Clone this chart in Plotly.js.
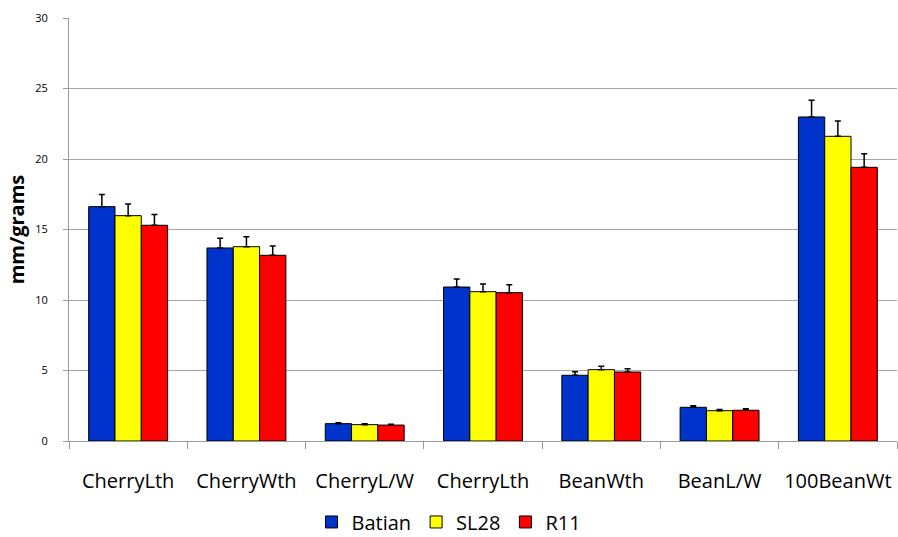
<!DOCTYPE html>
<html>
<head>
<meta charset="utf-8">
<script src="https://cdn.plot.ly/plotly-3.0.1.min.js"></script>
<style>html,body{margin:0;padding:0;background:#fff;}#chart{width:898px;height:537px;}</style>
</head>
<body>
<div id="chart"></div>
<script>
var categories = ["CherryLth", "CherryWth", "CherryL/W", "CherryLth", "BeanWth", "BeanL/W", "100BeanWt"];
var seriesNames = ["Batian", "SL28", "R11"];
var batian = [16.62, 13.69, 1.23, 10.92, 4.66, 2.39, 22.98];
var sl28   = [15.98, 13.78, 1.16, 10.59, 5.06, 2.15, 21.61];
var r11    = [15.30, 13.17, 1.13, 10.52, 4.89, 2.18, 19.41];
var batianErr = [0.87, 0.69, 0.07, 0.57, 0.26, 0.11, 1.18];
var sl28Err   = [0.83, 0.71, 0.06, 0.54, 0.24, 0.08, 1.09];
var r11Err    = [0.77, 0.66, 0.06, 0.57, 0.24, 0.11, 0.97];
var yTicks = [0, 5, 10, 15, 20, 25, 30];

var colors = ["#0033cc", "#ffff00", "#ff0000"];
var xPos = categories.map(function (c, i) { return i; });
var values = [batian, sl28, r11];
var errs = [batianErr, sl28Err, r11Err];

var traces = seriesNames.map(function (name, k) {
  return {
    type: "bar",
    name: name,
    x: xPos,
    y: values[k],
    marker: { color: colors[k], line: { color: "#000000", width: 1 } },
    error_y: { type: "data", array: errs[k], symmetric: false, arrayminus: errs[k].map(function(){return 0;}), color: "#000000", thickness: 1.5, width: 3 },
    hoverinfo: "none"
  };
});

var layout = {
  width: 898,
  height: 537,
  margin: { l: 69, r: 1, t: 18, b: 96, autoexpand: false },
  paper_bgcolor: "#ffffff",
  plot_bgcolor: "#ffffff",
  font: { family: "Open Sans, sans-serif", color: "#000000" },
  barmode: "group",
  bargap: 0.333,
  bargroupgap: 0,
  showlegend: true,
  legend: {
    orientation: "h",
    xref: "container", yref: "container",
    x: 0.5, xanchor: "center",
    y: 0.028, yanchor: "middle",
    font: { size: 20, family: "Open Sans, sans-serif", color: "#000" },
    traceorder: "normal"
  },
  xaxis: {
    range: [-0.5, 6.5],
    tickmode: "array",
    tickvals: xPos,
    ticktext: categories,
    ticks: "",
    tickfont: { size: 20, color: "#000" },
    ticklabelstandoff: 22,
    showline: true,
    linecolor: "#999999",
    linewidth: 1,
    showgrid: false,
    zeroline: false,
    minor: { tick0: -0.5, dtick: 1, ticks: "outside", ticklen: 7, tickcolor: "#999999", tickwidth: 1, showgrid: false },
    fixedrange: true
  },
  yaxis: {
    range: [0, 30],
    tickmode: "array",
    tickvals: yTicks,
    ticktext: yTicks.map(String),
    ticks: "outside",
    ticklen: 5,
    tickcolor: "#999999",
    tickfont: { size: 11, color: "#000" },
    ticklabelstandoff: 13,
    showline: true,
    linecolor: "#999999",
    linewidth: 1,
    showgrid: true,
    gridcolor: "#a6a6a6",
    gridwidth: 1,
    zeroline: false,
    fixedrange: true
  },
  annotations: [{
    text: "<b>mm/grams</b>",
    xref: "paper", yref: "paper",
    x: -0.063, y: 0.5,
    xanchor: "center", yanchor: "middle",
    textangle: -90,
    showarrow: false,
    font: { size: 20, family: "Open Sans, sans-serif", color: "#000" }
  }]
};

Plotly.newPlot("chart", traces, layout, { displayModeBar: false, staticPlot: true });
</script>
</body>
</html>
